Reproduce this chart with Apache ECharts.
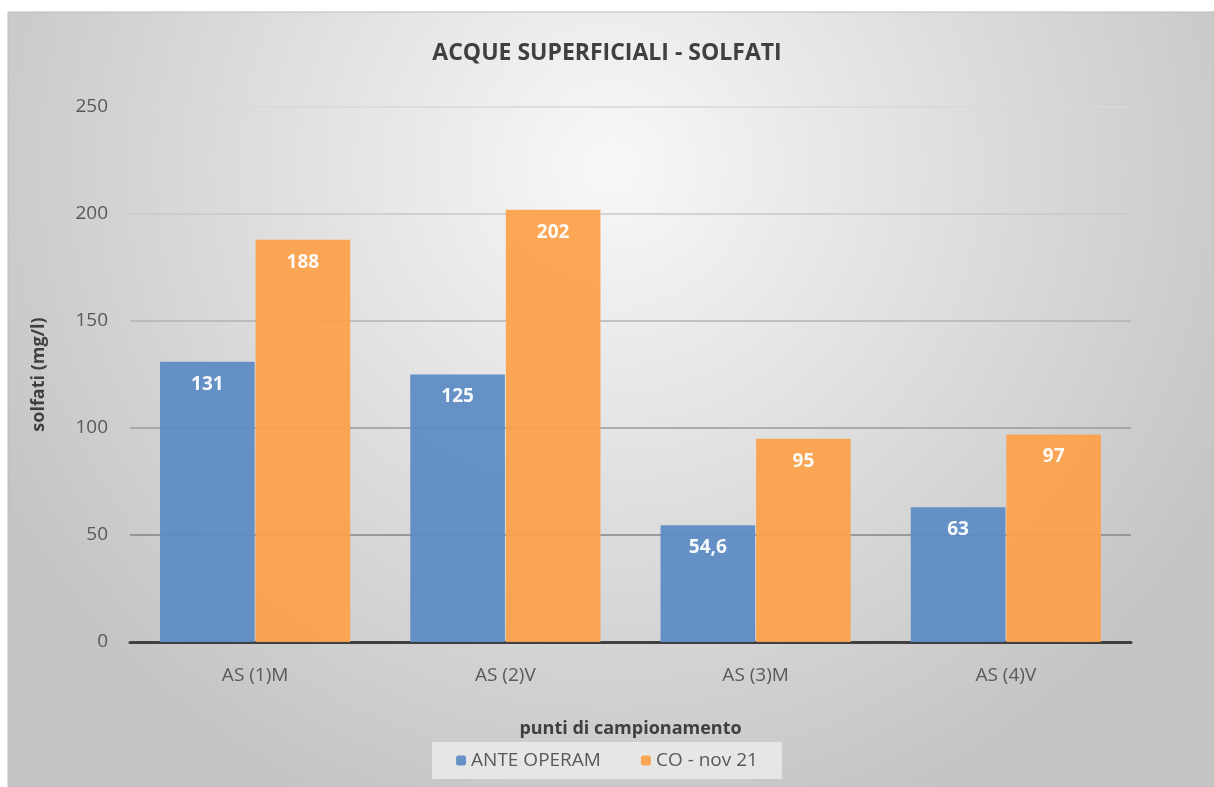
<!DOCTYPE html>
<html>
<head>
    <meta charset="utf-8" />
    <title>Acque superficiali - solfati</title>
    <script src="https://cdn.jsdelivr.net/npm/echarts@6/dist/echarts.min.js"></script>
    <style>
        html, body { margin: 0; padding: 0; background: #ffffff; }
        #main { width: 1214px; height: 787px; }
    </style>
</head>
<body>
    <div id="main"></div>
    <script type="text/javascript">
        var categories = ['AS (1)M', 'AS (2)V', 'AS (3)M', 'AS (4)V'];
        var anteOperam = [131, 125, 54.6, 63];
        var coNov21 = [188, 202, 95, 97];
        var seriesNames = ['ANTE OPERAM', 'CO - nov 21'];

        var chart = echarts.init(document.getElementById('main'));
        var font = '"Open Sans", "Liberation Sans", sans-serif';

        var labelOpt = {
            show: true,
            position: 'insideTop',
            distance: 13,
            color: '#ffffff',
            fontWeight: 'bold',
            fontSize: 19,
            fontFamily: font,
            formatter: function (p) {
                return String(p.value).replace('.', ',');
            }
        };

        var option = {
            animation: false,
            textStyle: { fontFamily: font },
            graphic: [{
                type: 'rect',
                z: -10,
                shape: { x: 8, y: 12, width: 1206, height: 775 },
                style: {
                    fill: {
                        type: 'radial', x: 0.5, y: 0.2, r: 0.9,
                        colorStops: [
                            { offset: 0, color: '#f8f8f8' },
                            { offset: 1, color: '#c4c4c4' }
                        ]
                    },
                    stroke: '#bdbdbd',
                    lineWidth: 1
                }
            }],
            title: {
                text: 'ACQUE SUPERFICIALI - SOLFATI',
                left: 'center',
                top: 37,
                textStyle: { fontSize: 23, fontWeight: 'bold', color: '#404040', fontFamily: font }
            },
            legend: {
                data: seriesNames,
                bottom: 8,
                left: 'center',
                itemWidth: 10,
                itemHeight: 10,
                itemGap: 40,
                padding: [9, 24],
                backgroundColor: 'rgba(235,235,235,0.85)',
                textStyle: { fontSize: 19, color: '#595959', fontFamily: font }
            },
            grid: { left: 130, right: 83, top: 107, bottom: 145 },
            xAxis: {
                type: 'category',
                data: categories,
                name: 'punti di campionamento',
                nameLocation: 'middle',
                nameGap: 78,
                nameTextStyle: { fontSize: 18, fontWeight: 'bold', color: '#404040' },
                axisLine: { lineStyle: { color: '#404040', width: 3 } },
                axisTick: { show: false },
                axisLabel: { fontSize: 19, color: '#595959', margin: 24 }
            },
            yAxis: {
                type: 'value',
                min: 0,
                max: 250,
                interval: 50,
                name: 'solfati (mg/l)',
                nameLocation: 'middle',
                nameGap: 82,
                nameTextStyle: { fontSize: 18, fontWeight: 'bold', color: '#404040' },
                axisLine: { show: false },
                axisTick: { show: false },
                axisLabel: { fontSize: 19, color: '#595959', margin: 22 },
                splitLine: {
                    lineStyle: {
                        color: ['#808080', '#858585', '#9a9a9a', '#b3b3b3', '#c8c8c8', '#d9d9d9'],
                        width: 1.5
                    }
                }
            },
            series: [{
                name: seriesNames[0],
                type: 'bar',
                data: anteOperam,
                barGap: '1%',
                barCategoryGap: '24%',
                itemStyle: { color: '#5d8bc3', opacity: 0.94 },
                label: labelOpt
            }, {
                name: seriesNames[1],
                type: 'bar',
                data: coNov21,
                itemStyle: { color: '#fba24b', opacity: 0.94 },
                label: labelOpt
            }]
        };
        chart.setOption(option, true);
    </script>
</body>
</html>
